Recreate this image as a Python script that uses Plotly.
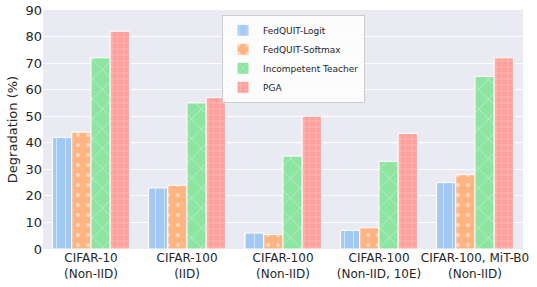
import plotly.graph_objects as go

categories = ["CIFAR-10<br>(Non-IID)", "CIFAR-100<br>(IID)", "CIFAR-100<br>(Non-IID)",
              "CIFAR-100<br>(Non-IID, 10E)", "CIFAR-100, MiT-B0<br>(Non-IID)"]
logit = [42, 23, 6, 7, 25]
softmax = [44, 24, 5.5, 8, 28]
incompetent = [72, 55, 35, 33, 65]
pga = [82, 57, 50, 43.5, 72]

series = [
    ("FedQUIT-Logit", logit, "#a1c9f4", "|", 9, 0.12),
    ("FedQUIT-Softmax", softmax, "#ffb482", ".", 10, 0.12),
    ("Incompetent Teacher", incompetent, "#8de5a1", "x", 14, 0.1),
    ("PGA", pga, "#ff9f9b", "+", 6, 0.15),
]

fig = go.Figure()
for name, vals, color, shape, size, sol in series:
    fig.add_trace(go.Bar(
        x=categories, y=vals, name=name,
        marker=dict(color=color, line=dict(color="white", width=1),
                    pattern=dict(shape=shape, fgcolor="white", bgcolor=color,
                                 size=size, solidity=sol, fillmode="overlay")),
    ))

font = "DejaVu Sans"
fig.update_layout(
    width=537, height=287,
    margin=dict(l=43, r=14, t=10, b=38),
    barmode="group", bargap=0.2, bargroupgap=0,
    plot_bgcolor="#eaeaf2", paper_bgcolor="white",
    font=dict(family=font, size=12, color="#262626"),
    legend=dict(x=0.373, y=0.98, xanchor="left", yanchor="top",
                bgcolor="rgba(255,255,255,0.85)", bordercolor="#cccccc", borderwidth=1,
                font=dict(size=9), tracegroupgap=0, itemwidth=30),
    showlegend=True,
)
fig.update_xaxes(showgrid=False, ticks="", tickangle=0, tickfont=dict(size=12),
                 showline=False, automargin=False, ticklabeloverflow="allow")
fig.update_yaxes(range=[0, 90], dtick=10, showgrid=True, gridcolor="white", gridwidth=1,
                 zeroline=False, ticks="", tickfont=dict(size=13), automargin=False,
                 ticklabeloverflow="allow",
                 title=dict(text="Degradation (%)", font=dict(size=13), standoff=4))

fig.write_html("out.html", config={"displayModeBar": False},
               post_script="document.body.style.margin='0';document.body.style.overflow='hidden';")
